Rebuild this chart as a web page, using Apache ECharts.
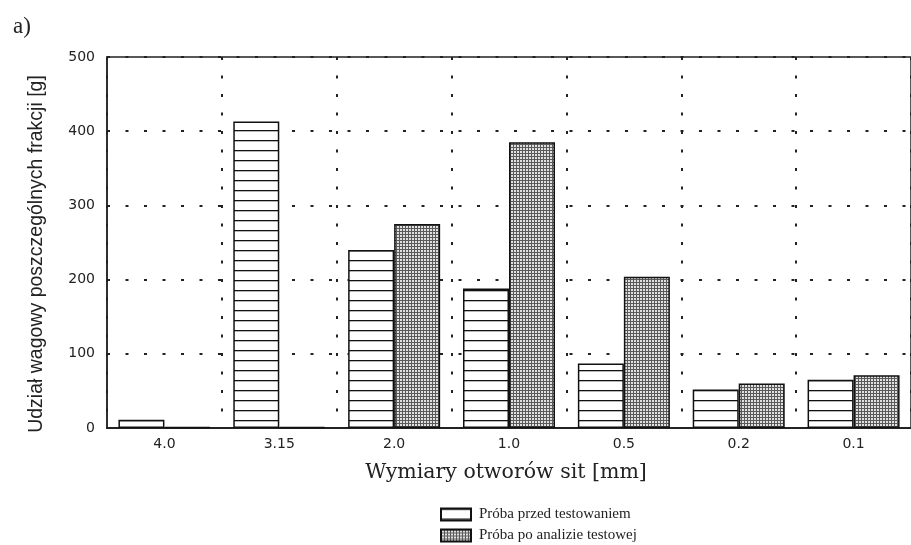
<!DOCTYPE html>
<html>
<head>
<meta charset="utf-8">
<script src="https://cdn.jsdelivr.net/npm/echarts@6/dist/echarts.min.js"></script>
<style>
html,body{margin:0;padding:0;background:#fff;}
#chart{width:911px;height:545px;}
</style>
</head>
<body>
<div id="chart"></div>
<script>
const categories = ['4.0', '3.15', '2.0', '1.0', '0.5', '0.2', '0.1'];
const beforeValues = [11, 413, 240, 188, 87, 52, 65];
const afterValues = [1.5, 1.5, 275, 385, 204, 60, 71];
const yTicks = [0, 100, 200, 300, 400, 500];
const seriesNames = ['Próba przed testowaniem', 'Próba po analizie testowej'];

function makeHatch() {
  const c = document.createElement('canvas');
  c.width = 4; c.height = 10;
  const ctx = c.getContext('2d');
  ctx.fillStyle = '#ffffff';
  ctx.fillRect(0, 0, 4, 10);
  ctx.fillStyle = '#111111';
  ctx.fillRect(0, 0, 4, 1.3);
  return c;
}
function makeCross() {
  const c = document.createElement('canvas');
  c.width = 3; c.height = 3;
  const ctx = c.getContext('2d');
  ctx.fillStyle = '#e0e0e0';
  ctx.fillRect(0, 0, 3, 3);
  ctx.fillStyle = '#5a5a5a';
  ctx.fillRect(0, 0, 3, 1);
  ctx.fillRect(0, 0, 1, 3);
  return c;
}

const chart = echarts.init(document.getElementById('chart'), null, {renderer: 'canvas'});
const gridLine = {show: true, lineStyle: {color: '#222', width: 2, type: [3, 15.5]}};
const legendBase = {
  orient: 'vertical', left: 435, icon: 'rect',
  itemWidth: 30, itemHeight: 12,
  textStyle: {fontFamily: 'Liberation Serif', fontSize: 15, color: '#222', padding: [0, 0, 0, 3]}
};

chart.setOption({
  backgroundColor: '#ffffff',
  animation: false,
  title: {
    text: 'a)', left: 8, top: 10,
    textStyle: {fontFamily: 'Liberation Serif', fontSize: 23, fontWeight: 'normal', color: '#222'}
  },
  legend: [
    Object.assign({top: 502, data: [seriesNames[0]]}, legendBase),
    Object.assign({top: 523, data: [seriesNames[1]]}, legendBase)
  ],
  grid: {
    left: 107, top: 57, width: 812, bottom: 117,
    show: true, borderColor: '#222', borderWidth: 1.5, backgroundColor: 'transparent'
  },
  xAxis: {
    type: 'category', data: categories,
    name: 'Wymiary otworów sit [mm]', nameLocation: 'middle', nameGap: 34,
    nameTextStyle: {fontFamily: 'DejaVu Serif', fontSize: 20.5, color: '#222', padding: [0, 0, 0, -6]},
    axisLine: {lineStyle: {color: '#222', width: 2}},
    axisTick: {show: false},
    axisLabel: {fontFamily: 'DejaVu Sans', fontSize: 14, color: '#222', margin: 9, interval: 0},
    splitLine: Object.assign({interval: 0}, gridLine)
  },
  yAxis: {
    type: 'value', min: yTicks[0], max: yTicks[yTicks.length - 1], interval: 100,
    name: 'Udział wagowy poszczególnych frakcji [g]', nameLocation: 'middle', nameGap: 60,
    nameTextStyle: {fontFamily: 'Liberation Sans', fontSize: 19.5, color: '#222', padding: [0, 23, 0, 0]},
    axisLine: {show: true, lineStyle: {color: '#222', width: 1.5}},
    axisTick: {show: false},
    axisLabel: {fontFamily: 'DejaVu Sans', fontSize: 14, color: '#222', margin: 12},
    splitLine: gridLine
  },
  series: [
    {
      name: seriesNames[0], type: 'bar', data: beforeValues,
      barWidth: 46, barGap: '0%',
      itemStyle: {color: {image: makeHatch(), repeat: 'repeat'}, borderColor: '#111', borderWidth: 1.5}
    },
    {
      name: seriesNames[1], type: 'bar', data: afterValues,
      barWidth: 46, barGap: '0%',
      itemStyle: {color: {image: makeCross(), repeat: 'repeat'}, borderColor: '#111', borderWidth: 1.5}
    }
  ]
});
</script>
</body>
</html>
